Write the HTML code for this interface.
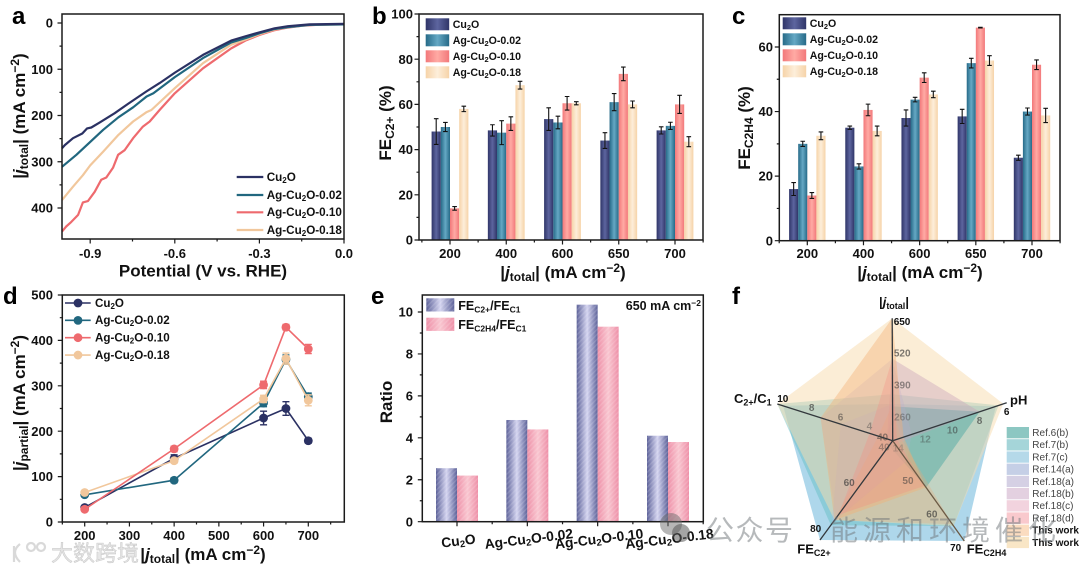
<!DOCTYPE html>
<html lang="en">
<head>
<meta charset="utf-8">
<title>Ag-Cu2O electrocatalysis figure</title>
<style>
html,body{margin:0;padding:0;background:#fff;width:1080px;height:572px;overflow:hidden}
#fig{display:block;filter:blur(0.35px)}
text{font-family:"Liberation Sans","Noto Sans CJK SC",sans-serif;font-weight:700;fill:#111}
.letter{font-size:24px;fill:#000}
.tick{font-size:13px}
.title{font-size:17px}
.leg{font-size:10.6px}
.wm{font-weight:400;fill:rgba(110,115,120,.5)}
</style>
</head>
<body>
<svg id="fig" xmlns="http://www.w3.org/2000/svg" width="1080" height="572" viewBox="0 0 1080 572">
<defs>
<linearGradient id="g0"><stop offset="0" stop-color="#2f3568"/><stop offset=".5" stop-color="#5d659f"/><stop offset="1" stop-color="#2f3568"/></linearGradient>
<linearGradient id="g1"><stop offset="0" stop-color="#266a88"/><stop offset=".5" stop-color="#65a8c4"/><stop offset="1" stop-color="#266a88"/></linearGradient>
<linearGradient id="g2"><stop offset="0" stop-color="#f2787a"/><stop offset=".5" stop-color="#ffaaa4"/><stop offset="1" stop-color="#f2787a"/></linearGradient>
<linearGradient id="g3"><stop offset="0" stop-color="#f6d3a8"/><stop offset=".5" stop-color="#fdeeda"/><stop offset="1" stop-color="#f6d3a8"/></linearGradient>
<linearGradient id="e0"><stop offset="0" stop-color="#5d6299"/><stop offset=".5" stop-color="#d4d4f0"/><stop offset="1" stop-color="#5d6299"/></linearGradient>
<linearGradient id="e1"><stop offset="0" stop-color="#ee90a8"/><stop offset=".5" stop-color="#f9c6d0"/><stop offset="1" stop-color="#ee90a8"/></linearGradient>
<pattern id="hatch" width="3.5" height="3.5" patternUnits="userSpaceOnUse" patternTransform="rotate(45)"><rect width="1.3" height="3.5" fill="rgba(255,255,255,.15)"/></pattern>
</defs>

<g id="panel-a">
<text class="letter" x="12" y="24">a</text>
<text class="title" text-anchor="middle" transform="translate(25,116) rotate(-90)">|<tspan font-style="italic">j</tspan><tspan dy="3" font-size="12">total</tspan><tspan dy="-3">| (mA cm</tspan><tspan dy="-6" font-size="12">−2</tspan><tspan dy="6">)</tspan></text>
<text class="title" x="203" y="276.5" text-anchor="middle">Potential (V vs. RHE)</text>
</g>

<g id="panel-b">
<text class="letter" x="372" y="24">b</text>
<text class="title" text-anchor="middle" transform="translate(391,123) rotate(-90)">FE<tspan dy="3" font-size="12">C2+</tspan><tspan dy="-3"> (%)</tspan></text>
<text class="title" x="563" y="278" text-anchor="middle">|<tspan font-style="italic">j</tspan><tspan dy="3" font-size="12">total</tspan><tspan dy="-3">| (mA cm</tspan><tspan dy="-6" font-size="12">−2</tspan><tspan dy="6">)</tspan></text>
</g>

<g id="panel-c">
<text class="letter" x="732" y="24">c</text>
<text class="title" text-anchor="middle" transform="translate(750,128) rotate(-90)">FE<tspan dy="3" font-size="12">C2H4</tspan><tspan dy="-3"> (%)</tspan></text>
<text class="title" x="920" y="278" text-anchor="middle">|<tspan font-style="italic">j</tspan><tspan dy="3" font-size="12">total</tspan><tspan dy="-3">| (mA cm</tspan><tspan dy="-6" font-size="12">−2</tspan><tspan dy="6">)</tspan></text>
</g>

<g id="panel-d">
<text class="letter" x="3" y="304">d</text>
<text class="title" text-anchor="middle" transform="translate(25,403) rotate(-90)">|<tspan font-style="italic">j</tspan><tspan dy="3" font-size="12">partial</tspan><tspan dy="-3">| (mA cm</tspan><tspan dy="-6" font-size="12">−2</tspan><tspan dy="6">)</tspan></text>
<text class="title" x="203" y="560" text-anchor="middle">|<tspan font-style="italic">j</tspan><tspan dy="3" font-size="12">total</tspan><tspan dy="-3">| (mA cm</tspan><tspan dy="-6" font-size="12">−2</tspan><tspan dy="6">)</tspan></text>
</g>

<g id="panel-e">
<text class="letter" x="371" y="304">e</text>
<text class="title" text-anchor="middle" transform="translate(392,402) rotate(-90)">Ratio</text>
<text x="701" y="310" text-anchor="end" font-size="12.5">650 mA cm<tspan dy="-4" font-size="8.5">−2</tspan></text>
</g>

<g id="panel-f">
<text class="letter" x="732" y="304">f</text>
</g>

<g id="watermarks">
<g fill="rgba(110,110,110,.5)">
<circle cx="671" cy="524" r="11"/><circle cx="681" cy="533" r="9" fill="rgba(90,90,90,.55)"/>
</g>
<text class="wm" x="706" y="540" font-size="28" letter-spacing="1.5">公众号</text>
<text class="wm" x="830" y="540" font-size="28" letter-spacing="5">能源和环境催化</text>
<g fill="none" stroke="rgba(215,215,215,.95)" stroke-width="2.2">
<path d="M14 546 L14 562 M20 544 Q10 552 20 562"/><circle cx="31" cy="547" r="4"/><circle cx="41" cy="547" r="4"/>
</g>
<text x="51" y="561" font-size="22" style="fill:rgba(225,225,225,.95);stroke:#c4c4c4;stroke-width:.4;font-weight:400">大数跨境</text>
</g>
</svg>

<script>
// ----- Panel a data -----
const potentialCu = [-1,-0.99,-0.961,-0.928,-0.911,-0.896,-0.866,-0.813,-0.766,-0.701,-0.654,-0.599,-0.5,-0.4,-0.346,-0.299,-0.246,-0.199,-0.122,0];
const currentCu = [271,264,249,239,228,226,215,195,175,148,130,107,69,38,28,20,11.5,7,3,2];
const potentialAg02 = [-1,-0.949,-0.9,-0.854,-0.8,-0.747,-0.7,-0.676,-0.6,-0.5,-0.4,-0.346,-0.299,-0.246,-0.199,-0.122,0];
const currentAg02 = [311,285,257,231,204,182,159,152,117,76,42,32,22,13,9,4,3];
const potentialAg10 = [-1,-0.985,-0.967,-0.943,-0.926,-0.908,-0.884,-0.861,-0.843,-0.819,-0.801,-0.778,-0.748,-0.713,-0.689,-0.654,-0.6,-0.5,-0.4,-0.35,-0.3,-0.25,-0.2,-0.15,-0.1,-0.05,0];
const currentAg10 = [451,440,430,415,388,385,365,339,334,313,285,275,249,224,213,188,152,98,55,38,26,16,10,6,4,3,3];
const potentialAg18 = [-1,-0.961,-0.926,-0.9,-0.854,-0.8,-0.748,-0.701,-0.683,-0.6,-0.5,-0.4,-0.346,-0.299,-0.246,-0.199,-0.122,0];
const currentAg18 = [383,354,329,308,278,242,213,193,188,141,87,47,35,24,14,9,4,3];
const seriesNames = ['Cu₂O','Ag-Cu₂O-0.02','Ag-Cu₂O-0.10','Ag-Cu₂O-0.18'];
const lineColorsA = ['#2b3163','#21677f','#ee6a6e','#f1c79c'];
const xTicksA = [-0.9,-0.6,-0.3,0];
const yTicksA = [0,100,200,300,400];

// ----- Panel b data -----
const categories = ['200','400','600','650','700'];
const feC2Cu = [48,48.5,53.5,44,48.5];
const feC2CuErr = [5.7,2.5,5,3.5,1.6];
const feC2Ag02 = [50,47.5,52,61,50.5];
const feC2Ag02Err = [2,5.3,2.8,3.8,1.6];
const feC2Ag10 = [14,51.5,60.5,73.5,60];
const feC2Ag10Err = [0.8,3,3,3,4];
const feC2Ag18 = [58,68.5,60.5,60,43.5];
const feC2Ag18Err = [1.2,1.7,0.7,1.5,2.2];
const yTicksB = [0,20,40,60,80,100];

// ----- Panel c data -----
const feC2H4Cu = [16,35,38,38.5,25.7];
const feC2H4CuErr = [2,0.5,2.5,2.2,0.8];
const feC2H4Ag02 = [30,23,43.7,55,40];
const feC2H4Ag02Err = [0.8,0.8,0.7,1.5,1.1];
const feC2H4Ag10 = [14,40.5,50.5,66,54.5];
const feC2H4Ag10Err = [0.9,1.8,1.5,0.1,1.5];
const feC2H4Ag18 = [32.5,34,45.3,55.8,38.8];
const feC2H4Ag18Err = [1.2,1.5,1,1.5,2.2];
const yTicksC = [0,20,40,60];

// ----- Panel d data -----
const totalCurrents = [200,400,600,650,700];
const partialCu = [32,140,229,250,179];
const partialCuErr = [3,8,15,15,5];
const partialAg02 = [60,92,262,358,276];
const partialAg02Err = [3,5,8,10,8];
const partialAg10 = [28,161,302,429,381];
const partialAg10Err = [3,6,8,6,10];
const partialAg18 = [65,135,271,360,268];
const partialAg18Err = [3,5,8,12,12];
const xTicksD = [200,300,400,500,600,700];
const yTicksD = [0,100,200,300,400,500];

// ----- Panel e data -----
const ratioCategories = ['Cu₂O','Ag-Cu₂O-0.02','Ag-Cu₂O-0.10','Ag-Cu₂O-0.18'];
const ratioC2 = [2.55,4.85,10.35,4.1];
const ratioC2H4 = [2.2,4.4,9.3,3.8];
const yTicksE = [0,2,4,6,8,10];

// ----- Panel f data (order: j_total, pH, FE C2H4, FE C2+, C2+/C1) -----
const radarNames = ['Ref.6(b)','Ref.7(b)','Ref.7(c)','Ref.14(a)','Ref.18(a)','Ref.18(b)','Ref.18(c)','Ref.18(d)','This work','This work'];
const ref6b = [290,8,54,38.7,2.4];
const ref7b = [340,6.6,65.5,73.5,10];
const ref7c = [300,6.8,70,80,9.6];
const ref14a = [300,13.6,46,73,5.6];
const ref18a = [485,13,46,70.4,7];
const ref18b = [485,8,41,38,2.4];
const ref18c = [300,13.8,65,71.3,3];
const ref18d = [485,14.1,53.5,69,3.6];
const thisWorkA = [650,13.6,54,71.3,7];
const thisWorkB = [650,6.25,65.5,71.3,10];
const radarFills = ['#4fa9a3','#62bcc0','#8cc6e2','#a9b8e0','#b5aad5','#c9a0b8','#e8a878','#f58a80','#f6b072','#f8dcae'];
const radarOpacity = [0.5,0.45,0.7,0.35,0.25,0.4,0.3,0.3,0.4,0.5];
const swatchColors = ['#8cc7c2','#a5d5d9','#b5d9e9','#c5cfe6','#d5d0e4','#e3d0e0','#f2d3de','#f9c9cd','#fbdcc0','#f9e6c6'];
const jTicks = [650,520,390,260];
const phTicks = [6,8,10,12,14];
const c2h4Ticks = [70,60,50,40];
const c2Ticks = [80,60,40];
const ratioTicks = [10,8,6,4];

const NS = 'http://www.w3.org/2000/svg';
function mk(tag, attrs, parent) {
  const el = document.createElementNS(NS, tag);
  for (const k in attrs) el.setAttribute(k, attrs[k]);
  parent.appendChild(el);
  return el;
}
function linear(d0, d1, r0, r1) { return v => r0 + (v - d0) * (r1 - r0) / (d1 - d0); }
function subText(el, str, subSize, dy) {
  // renders Unicode subscript 2 as a real tspan subscript
  const parts = str.split('₂');
  el.appendChild(document.createTextNode(parts[0]));
  if (parts.length > 1) {
    const s = mk('tspan', {'font-size': subSize, dy: dy}, el);
    s.textContent = '2';
    const r = mk('tspan', {dy: -dy}, el);
    r.textContent = parts[1];
  }
}
function frame(parent, x0, y0, x1, y1) {
  const r = mk('rect', {x: x0, y: y0, width: x1 - x0, height: y1 - y0, fill: 'none', stroke: '#1a1a1a', 'stroke-width': 1.5}, parent);
  
  
}
function yAxis(parent, scale, ticks, minorStep, x0, labelX) {
  const minV = Math.min(...ticks), maxV = Math.max(...ticks);
  let d = '';
  for (const t of ticks) d += `M${x0} ${scale(t)}h-4.5`;
  if (minorStep) for (let v = minV; v <= maxV + 1e-6; v += minorStep) d += `M${x0} ${scale(v)}h-2.5`;
  const p = mk('path', {d: d, stroke: '#1a1a1a', 'stroke-width': 1.2, fill: 'none'}, parent);
  
  
  for (const t of ticks) {
    const tx = mk('text', {class: 'tick', x: labelX, y: scale(t) + 4.6, 'text-anchor': 'end'}, parent);
    
    
    tx.textContent = t;
  }
}
function barPanel(parent, cfg) {
  const y = linear(0, cfg.yMax, cfg.y0, cfg.yTop);
  const x = linear(0, categories.length - 1, cfg.cat0, cfg.catN);
  const step = (cfg.catN - cfg.cat0) / (categories.length - 1);
  const bw = cfg.barW;
  cfg.values.forEach((vals, s) => {
    vals.forEach((v, i) => {
      const bx = x(i) - 2 * bw + s * bw;
      const b = mk('rect', {x: bx, y: y(v), width: bw, height: cfg.y0 - y(v), fill: 'url(#g' + s + ')'}, parent);
      
      
    });
  });
  cfg.values.forEach((vals, s) => {
    vals.forEach((v, i) => {
      const cx = x(i) - 2 * bw + (s + 0.5) * bw;
      const e = cfg.errors[s][i];
      const eb = mk('path', {d: `M${cx} ${y(v + e)}V${y(v - e)}M${cx - 2.3} ${y(v + e)}h4.6M${cx - 2.3} ${y(v - e)}h4.6`, stroke: '#111', 'stroke-width': 1.1, fill: 'none'}, parent);
      
      
    });
  });
  frame(parent, cfg.x0, cfg.yTop, cfg.x1, cfg.y0);
  yAxis(parent, y, cfg.yTicks, cfg.minor, cfg.x0, cfg.labelX);
  let d = '';
  categories.forEach((c, i) => {
    d += `M${x(i)} ${cfg.y0}v4.5M${x(i) + step / 2} ${cfg.y0}v2.5`;
    if (i === 0) d += `M${x(i) - step / 2} ${cfg.y0}v2.5`;
    const tx = mk('text', {class: 'tick', x: x(i), y: 258, 'text-anchor': 'middle'}, parent);
    
    
    tx.textContent = c;
  });
  const tk = mk('path', {d: d, stroke: '#1a1a1a', 'stroke-width': 1.2, fill: 'none'}, parent);
  
  
  seriesNames.forEach((nm, s) => {
    const cy = cfg.legendY + s * 16;
    const sw = mk('rect', {x: cfg.legendX, y: cy - 6, width: 23.5, height: 12, fill: 'url(#g' + s + ')'}, parent);
    
    
    const tx = mk('text', {class: 'leg', x: cfg.legendX + 27, y: cy + 3.5}, parent);
    
    
    subText(tx, nm, 7.5, 2);
  });
}

// ----- Panel a -----
(function () {
  const g = document.getElementById('panel-a');
  const x = linear(-1, 0, 62, 344);
  const y = linear(0, 400, 23, 208);
  const xs = [potentialCu, potentialAg02, potentialAg18, potentialAg10];
  const ys = [currentCu, currentAg02, currentAg18, currentAg10];
  const cols = [lineColorsA[0], lineColorsA[1], lineColorsA[3], lineColorsA[2]];
  [3, 2, 1, 0].forEach(k => {
    const d = xs[k].map((p, i) => (i ? 'L' : 'M') + x(p).toFixed(1) + ' ' + y(ys[k][i]).toFixed(1)).join('');
    const c = mk('path', {d: d, fill: 'none', stroke: cols[k], 'stroke-width': 2.2, 'stroke-linejoin': 'round'}, g);
    
    
  });
  frame(g, 62, 14, 344, 239);
  yAxis(g, y, yTicksA, 50, 62, 53);
  let d = '';
  xTicksA.forEach(t => {
    d += `M${x(t)} 239v4.5`;
    const tx = mk('text', {class: 'tick', x: x(t), y: 258, 'text-anchor': 'middle'}, g);
    
    
    tx.textContent = t === 0 ? '0.0' : t.toFixed(1);
  });
  for (let v = -0.75; v < 0; v += 0.3) d += `M${x(v)} 239v2.5`;
  const tk = mk('path', {d: d, stroke: '#1a1a1a', 'stroke-width': 1.2, fill: 'none'}, g);
  
  
  seriesNames.forEach((nm, s) => {
    const cy = [177, 195, 212.3, 230][s];
    const l = mk('line', {x1: 236.7, x2: 263.3, y1: cy, y2: cy, stroke: lineColorsA[s], 'stroke-width': 2.2}, g);
    
    
    const tx = mk('text', {x: 266.7, y: cy + 3.8, 'font-size': 11.7}, g);
    
    
    subText(tx, nm, 8, 2);
  });
})();

// ----- Panels b and c -----
barPanel(document.getElementById('panel-b'), {
  values: [feC2Cu, feC2Ag02, feC2Ag10, feC2Ag18],
  errors: [feC2CuErr, feC2Ag02Err, feC2Ag10Err, feC2Ag18Err],
  yMax: 100, y0: 240, yTop: 14, x0: 419, x1: 703, cat0: 450, catN: 675, barW: 9.2,
  yTicks: yTicksB, minor: 10, labelX: 413, legendX: 425.7, legendY: 24.3
});
barPanel(document.getElementById('panel-c'), {
  values: [feC2H4Cu, feC2H4Ag02, feC2H4Ag10, feC2H4Ag18],
  errors: [feC2H4CuErr, feC2H4Ag02Err, feC2H4Ag10Err, feC2H4Ag18Err],
  yMax: 70, y0: 240.7, yTop: 14.7, x0: 779.3, x1: 1060, cat0: 807.3, catN: 1032, barW: 9.1,
  yTicks: yTicksC, minor: 10, labelX: 773, legendX: 782.7, legendY: 23.3
});

// ----- Panel d -----
(function () {
  const g = document.getElementById('panel-d');
  const x = linear(200, 700, 84.7, 308.3);
  const y = linear(0, 500, 522, 295);
  const sets = [partialCu, partialAg02, partialAg18, partialAg10];
  const errs = [partialCuErr, partialAg02Err, partialAg18Err, partialAg10Err];
  const cols = [lineColorsA[0], lineColorsA[1], '#f1c79c', '#ee6a6e'];
  sets.forEach((vals, s) => {
    const d = vals.map((v, i) => (i ? 'L' : 'M') + x(totalCurrents[i]).toFixed(1) + ' ' + y(v).toFixed(1)).join('');
    const l = mk('path', {d: d, fill: 'none', stroke: cols[s], 'stroke-width': 1.6}, g);
    
    
    vals.forEach((v, i) => {
      const cx = x(totalCurrents[i]);
      const e = errs[s][i];
      const eb = mk('path', {d: `M${cx} ${y(v + e)}V${y(v - e)}M${cx - 3.5} ${y(v + e)}h7M${cx - 3.5} ${y(v - e)}h7`, stroke: cols[s], 'stroke-width': 1.4, fill: 'none'}, g);
      
      
      const pt = mk('circle', {cx: cx, cy: y(v), r: 4.4, fill: cols[s]}, g);
      
      
    });
  });
  frame(g, 62.3, 295, 344.3, 522);
  yAxis(g, y, yTicksD, 50, 62.3, 53);
  let d = '';
  xTicksD.forEach(t => {
    d += `M${x(t)} 522v4.5M${x(t - 50)} 522v2.5`;
    const tx = mk('text', {class: 'tick', x: x(t), y: 540, 'text-anchor': 'middle'}, g);
    
    
    tx.textContent = t;
  });
  d += `M${x(750)} 522v2.5`;
  const tk = mk('path', {d: d, stroke: '#1a1a1a', 'stroke-width': 1.2, fill: 'none'}, g);
  
  
  seriesNames.forEach((nm, s) => {
    const cy = 303 + s * 17.35;
    const c = [lineColorsA[0], lineColorsA[1], '#ee6a6e', '#f1c79c'][s];
    const l = mk('line', {x1: 65, x2: 90.7, y1: cy, y2: cy, stroke: c, 'stroke-width': 1.6}, g);
    
    
    const m = mk('circle', {cx: 78, cy: cy, r: 4.4, fill: c}, g);
    
    
    const tx = mk('text', {x: 95, y: cy + 3.8, 'font-size': 11.6}, g);
    
    
    subText(tx, nm, 8, 2);
  });
})();

// ----- Panel e -----
(function () {
  const g = document.getElementById('panel-e');
  const y = linear(0, 10, 521.7, 312);
  const x = linear(0, 3, 457, 668);
  const bw = 21;
  [ratioC2, ratioC2H4].forEach((vals, s) => {
    vals.forEach((v, i) => {
      const bx = x(i) - bw + s * bw;
      const b = mk('rect', {x: bx, y: y(v), width: bw, height: 521.7 - y(v), fill: 'url(#e' + s + ')'}, g);
      
      
      const h = mk('rect', {x: bx, y: y(v), width: bw, height: 521.7 - y(v), fill: 'url(#hatch)'}, g);
      
      
    });
  });
  frame(g, 422.3, 295, 703.3, 521.7);
  yAxis(g, y, yTicksE, 1, 422.3, 413);
  let d = '';
  ratioCategories.forEach((c, i) => {
    d += `M${x(i)} 521.7v4.5M${x(i) + 35.2} 521.7v2.5`;
    const tx = mk('text', {'font-size': 13.8, 'text-anchor': 'middle', transform: `translate(${x(i) + 2},${545.5 - (i ? 2 : 0)}) rotate(-7)`}, g);
    
    
    subText(tx, c, 9.5, 2);
  });
  const tk = mk('path', {d: d, stroke: '#1a1a1a', 'stroke-width': 1.2, fill: 'none'}, g);
  
  
  const legendRows = [['C2+', 'FE', 298.3, 310], ['C2H4', 'FE', 317.7, 329]];
  legendRows.forEach((r, s) => {
    const sw = mk('rect', {x: 426.3, y: r[2], width: 28, height: 13.2, fill: 'url(#e' + s + ')'}, g);
    
    
    const sh = mk('rect', {x: 426.3, y: r[2], width: 28, height: 13.2, fill: 'url(#hatch)'}, g);
    
    
    const tx = mk('text', {x: 458.3, y: r[3], 'font-size': 12.5}, g);
    
    
    tx.appendChild(document.createTextNode('FE'));
    const a = mk('tspan', {dy: 2.5, 'font-size': 8.5}, tx);
    a.textContent = r[0];
    const b = mk('tspan', {dy: -2.5}, tx);
    b.textContent = '/FE';
    const c = mk('tspan', {dy: 2.5, 'font-size': 8.5}, tx);
    c.textContent = 'C1';
  });
})();

// ----- Panel f -----
(function () {
  const g = document.getElementById('panel-f');
  const cx = 892.7, cy = 440.7;
  // axis end points and value ranges
  const ends = [[892.2,318.3],[1006.7,402.7],[964.3,541],[820,540],[777.3,404]];
  const ranges = [[150,650],[14.4,6],[40,70],[36.5,80],[2,10]];
  const pt = (axis, v) => {
    const f = linear(ranges[axis][0], ranges[axis][1], 0, 1)(v);
    return [cx + (ends[axis][0] - cx) * f, cy + (ends[axis][1] - cy) * f];
  };
  const polys = [ref7c, ref7b, thisWorkB, ref6b, ref14a, ref18a, ref18c, ref18b, thisWorkA, ref18d];
  const idx = [2, 1, 9, 0, 3, 4, 6, 5, 8, 7];
  polys.forEach((vals, k) => {
    const pts = vals.map((v, a) => pt(a, v).map(n => n.toFixed(1)).join(',')).join(' ');
    const p = mk('polygon', {points: pts, fill: radarFills[idx[k]], 'fill-opacity': radarOpacity[idx[k]]}, g);
    
    
  });
  ends.forEach((e, a) => {
    const l = mk('line', {x1: cx, y1: cy, x2: e[0], y2: e[1], stroke: a === 2 ? '#6b5a45' : '#33383c', 'stroke-width': 1.3}, g);
    
    
  });
  const tickSets = [jTicks, phTicks, c2h4Ticks, c2Ticks, ratioTicks];
  const offs = [[1.5,6.5],[0,12.5],[-8.6,9.8],[-4.3,-8.2],[5.5,-2]];
  tickSets.forEach((ticks, a) => {
    ticks.forEach((t, i) => {
      const p = pt(a, t);
      const tx = mk('text', {x: p[0] + offs[a][0], y: p[1] + offs[a][1], 'font-size': 10, 'text-anchor': a === 0 ? 'start' : 'middle'}, g);
      
      
      tx.style.fill = i === 0 ? '#111' : 'rgba(55,55,55,' + (0.8 - i * 0.14) + ')';
      tx.textContent = t;
    });
  });
  // axis titles
  const t1 = mk('text', {x: 894, y: 306.5, 'text-anchor': 'middle', 'font-size': 13}, g);
  
  
  t1.appendChild(document.createTextNode('|'));
  const t1a = mk('tspan', {'font-style': 'italic'}, t1);
  t1a.textContent = 'j';
  const t1b = mk('tspan', {dy: 2.5, 'font-size': 9}, t1);
  t1b.textContent = 'total';
  const t1c = mk('tspan', {dy: -2.5}, t1);
  t1c.textContent = '|';
  const t2 = mk('text', {x: 1010, y: 404.3, 'font-size': 13}, g);
  
  
  t2.textContent = 'pH';
  const t3 = mk('text', {x: 734, y: 403, 'font-size': 13}, g);
  
  
  t3.appendChild(document.createTextNode('C'));
  const t3a = mk('tspan', {dy: 2.5, 'font-size': 9}, t3);
  t3a.textContent = '2+';
  const t3b = mk('tspan', {dy: -2.5}, t3);
  t3b.textContent = '/C';
  const t3c = mk('tspan', {dy: 2.5, 'font-size': 9}, t3);
  t3c.textContent = '1';
  const t4 = mk('text', {x: 797.3, y: 553.5, 'font-size': 13}, g);
  
  
  t4.appendChild(document.createTextNode('FE'));
  const t4a = mk('tspan', {dy: 2.5, 'font-size': 9}, t4);
  t4a.textContent = 'C2+';
  const t5 = mk('text', {x: 966.7, y: 553.5, 'font-size': 13}, g);
  
  
  t5.appendChild(document.createTextNode('FE'));
  const t5a = mk('tspan', {dy: 2.5, 'font-size': 9}, t5);
  t5a.textContent = 'C2H4';
  // legend
  radarNames.forEach((nm, i) => {
    const y0 = 427 + i * 12.2;
    const s = mk('rect', {x: 1006.7, y: y0, width: 22.3, height: 11.3, fill: swatchColors[i]}, g);
    
    
    const tx = mk('text', {x: 1032.3, y: y0 + 9, 'font-size': 10}, g);
    
    
    tx.style.fontWeight = i >= 8 ? '700' : '400';
    tx.style.fill = i >= 8 ? '#111' : '#444';
    tx.textContent = nm;
  });
})();

// keep watermarks on top
document.getElementById('fig').appendChild(document.getElementById('watermarks'));
</script>
</body>
</html>
